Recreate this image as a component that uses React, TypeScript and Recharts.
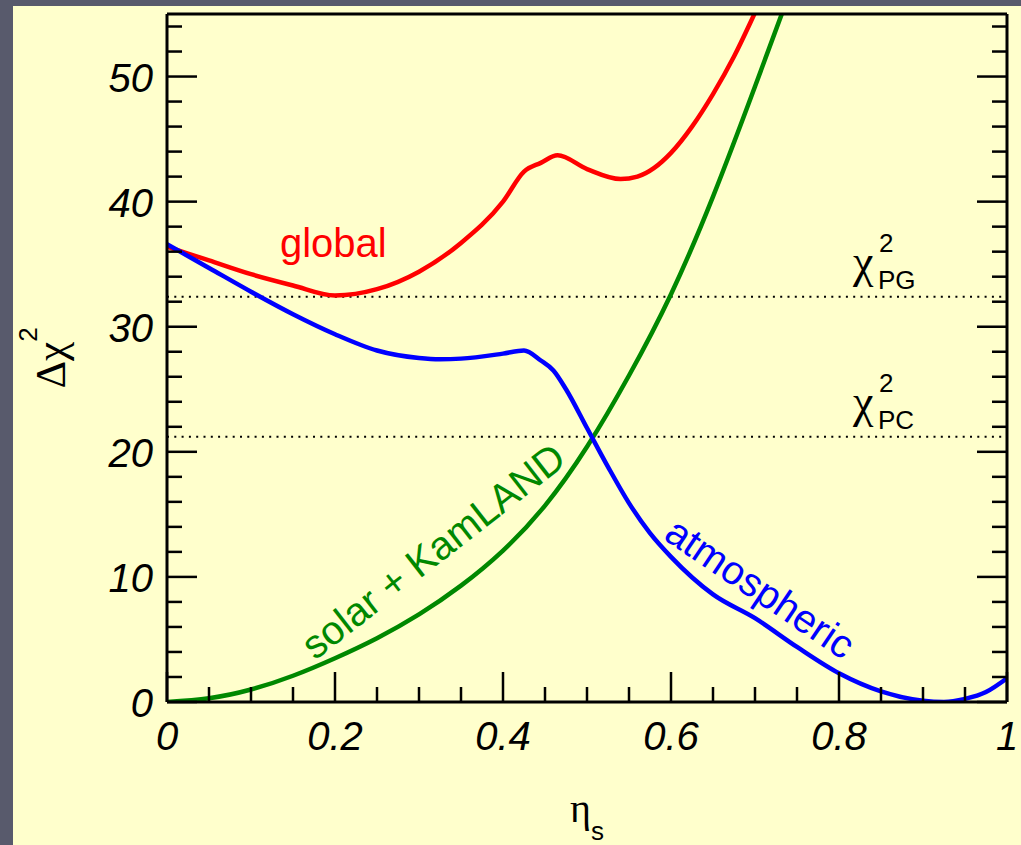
import React from 'react';
import { LineChart, Line, XAxis, YAxis, ReferenceLine, ReferenceDot } from 'recharts';

// solar + KamLAND
const etaSolar = [0, 0.05, 0.1, 0.15, 0.2, 0.25, 0.3, 0.35, 0.4, 0.45, 0.5, 0.55, 0.6, 0.65, 0.7, 0.75];
const chiSolar = [0, 0.3, 1.0, 2.1, 3.5, 5.1, 7.0, 9.3, 12.1, 15.7, 20.4, 26.1, 32.6, 40.4, 49.2, 58.3];

// global fit
const etaGlobal = [0, 0.05, 0.1, 0.15, 0.2, 0.25, 0.3, 0.35, 0.4, 0.425, 0.445, 0.465, 0.5, 0.54, 0.56, 0.58, 0.6, 0.625, 0.65, 0.675, 0.7, 0.75];
const chiGlobal = [36.4, 35.3, 34.2, 33.3, 32.5, 33.0, 34.4, 36.7, 40.0, 42.4, 43.1, 43.7, 42.6, 41.8, 42.0, 42.7, 43.9, 46.0, 48.6, 51.6, 55.1, 62.5];

// atmospheric
const etaAtm = [0, 0.05, 0.1, 0.15, 0.2, 0.25, 0.3, 0.325, 0.35, 0.4, 0.425, 0.445, 0.46, 0.475, 0.5, 0.525, 0.55, 0.575, 0.6, 0.65, 0.7, 0.75, 0.8, 0.85, 0.9, 0.925, 0.95, 0.975, 1];
const chiAtm = [36.6, 34.7, 32.8, 31.0, 29.4, 28.1, 27.5, 27.4, 27.45, 27.85, 28.1, 27.3, 26.5, 25.0, 21.9, 18.8, 15.9, 13.5, 11.6, 8.6, 6.7, 4.4, 2.3, 0.85, 0.1, 0.0, 0.25, 0.8, 1.9];

// parameter goodness-of-fit thresholds
const chiPG = 32.4;
const chiPC = 21.2;

const xTicks = [0, 0.05, 0.1, 0.15, 0.2, 0.25, 0.3, 0.35, 0.4, 0.45, 0.5, 0.55, 0.6, 0.65, 0.7, 0.75, 0.8, 0.85, 0.9, 0.95, 1];
const xMajor = [0, 0.2, 0.4, 0.6, 0.8, 1];
const yTicks = [0, 2, 4, 6, 8, 10, 12, 14, 16, 18, 20, 22, 24, 26, 28, 30, 32, 34, 36, 38, 40, 42, 44, 46, 48, 50, 52, 54];
const yMajor = [0, 10, 20, 30, 40, 50];

const toPoints = (etas: number[], chis: number[]) => etas.map((eta, i) => ({ eta, chi: chis[i] }));

const SANS = '"Liberation Sans", Arial, sans-serif';
const SERIF = '"Liberation Serif", "Times New Roman", serif';
const MAJOR = 30;
const MINOR = 15;
const TICK_W = 2.5;
const LINE_W = 4.5;

const tickFont = { fontFamily: SANS, fontStyle: 'italic', fontSize: 40 } as const;

const BottomTick = (props: any) => {
  const { x, y, payload } = props;
  const major = xMajor.includes(payload.value);
  return (
    <g>
      <line x1={x} y1={y} x2={x} y2={y - (major ? MAJOR : MINOR)} stroke="#000" strokeWidth={TICK_W} />
      {major && (
        <text x={x} y={y + 48} textAnchor="middle" fill="#000" {...tickFont}>
          {String(payload.value)}
        </text>
      )}
    </g>
  );
};

const TopTick = (props: any) => {
  const { x, y, payload } = props;
  const major = xMajor.includes(payload.value);
  return <line x1={x} y1={y} x2={x} y2={y + (major ? MAJOR : MINOR)} stroke="#000" strokeWidth={TICK_W} />;
};

const LeftTick = (props: any) => {
  const { x, y, payload } = props;
  const major = yMajor.includes(payload.value);
  return (
    <g>
      <line x1={x} y1={y} x2={x + (major ? MAJOR : MINOR)} y2={y} stroke="#000" strokeWidth={TICK_W} />
      {major && (
        <text x={x - 14} y={y + 15} textAnchor="end" fill="#000" {...tickFont}>
          {String(payload.value)}
        </text>
      )}
    </g>
  );
};

const RightTick = (props: any) => {
  const { x, y, payload } = props;
  const major = yMajor.includes(payload.value);
  return <line x1={x} y1={y} x2={x - (major ? MAJOR : MINOR)} y2={y} stroke="#000" strokeWidth={TICK_W} />;
};

const xTitle = (props: any) => {
  const { viewBox } = props;
  const cx = viewBox.x + viewBox.width / 2;
  return (
    <text x={cx} y={822} textAnchor="middle" fill="#000">
      <tspan fontFamily={SERIF} fontSize={40}>η</tspan>
      <tspan dy={18} fontFamily={SANS} fontSize={26}>s</tspan>
    </text>
  );
};

const yTitle = (props: any) => {
  const { viewBox } = props;
  const cx = viewBox.x - 42;
  const cy = viewBox.y + viewBox.height / 2;
  return (
    <text transform={`translate(${cx},${cy}) rotate(-90)`} textAnchor="middle" fill="#000">
      <tspan fontFamily={SERIF} fontSize={43}>Δχ</tspan>
      <tspan dy={-28} fontFamily={SANS} fontSize={26}>2</tspan>
    </text>
  );
};

const curveLabel = (text: string, color: string, angle: number, anchor: 'start' | 'middle') => (props: any) => {
  const { x, y } = props.viewBox;
  return (
    <text
      x={x}
      y={y}
      transform={`rotate(${angle} ${x} ${y})`}
      textAnchor={anchor}
      fill={color}
      fontFamily={SANS}
      fontSize={40}
    >
      {text}
    </text>
  );
};

const chiLabel = (sub: string) => (props: any) => {
  const { x, y } = props.viewBox;
  return (
    <g fill="#000">
      <text x={x - 2} y={y - 20} fontFamily={SERIF} fontSize={46}>χ</text>
      <text x={x + 24} y={y - 45} fontFamily={SANS} fontSize={26}>2</text>
      <text x={x + 23} y={y - 8} fontFamily={SANS} fontSize={26}>{sub}</text>
    </g>
  );
};

const axisLine = { stroke: '#000', strokeWidth: 3 };

export default function App() {
  return (
    <div style={{ position: 'relative', width: 1021, height: 845, background: '#585a6c', overflow: 'hidden' }}>
      <style>{'body{margin:0}'}</style>
      <div style={{ position: 'absolute', left: 13, top: 6, right: 0, bottom: 0, background: '#ffffcc' }} />
      <div style={{ position: 'absolute', left: 0, top: 0 }}>
        <LineChart width={1021} height={845} margin={{ top: 4, right: 4, bottom: 113, left: 107 }}>
          <XAxis
            xAxisId="bottom"
            dataKey="eta"
            type="number"
            domain={[0, 1]}
            ticks={xTicks}
            interval={0}
            height={30}
            tickSize={0}
            tickMargin={0}
            axisLine={axisLine}
            tickLine={false}
            tick={<BottomTick />}
            label={xTitle}
            allowDataOverflow
          />
          <XAxis
            xAxisId="top"
            orientation="top"
            type="number"
            domain={[0, 1]}
            ticks={xTicks}
            interval={0}
            height={10}
            tickSize={0}
            tickMargin={0}
            axisLine={axisLine}
            tickLine={false}
            tick={<TopTick />}
            allowDataOverflow
          />
          <YAxis
            yAxisId="left"
            type="number"
            domain={[0, 55]}
            ticks={yTicks}
            interval={0}
            width={60}
            tickSize={0}
            tickMargin={0}
            axisLine={axisLine}
            tickLine={false}
            tick={<LeftTick />}
            label={yTitle}
            allowDataOverflow
          />
          <YAxis
            yAxisId="right"
            orientation="right"
            type="number"
            domain={[0, 55]}
            ticks={yTicks}
            interval={0}
            width={10}
            tickSize={0}
            tickMargin={0}
            axisLine={axisLine}
            tickLine={false}
            tick={<RightTick />}
            allowDataOverflow
          />

          <ReferenceLine xAxisId="bottom" yAxisId="left" y={chiPG} stroke="#000" strokeWidth={2} strokeDasharray="2 5.3" />
          <ReferenceLine xAxisId="bottom" yAxisId="left" y={chiPC} stroke="#000" strokeWidth={2} strokeDasharray="2 5.3" />

          <Line
            xAxisId="bottom"
            yAxisId="left"
            data={toPoints(etaSolar, chiSolar)}
            dataKey="chi"
            type="natural"
            stroke="#008800"
            strokeWidth={LINE_W}
            dot={false}
            isAnimationActive={false}
          />
          <Line
            xAxisId="bottom"
            yAxisId="left"
            data={toPoints(etaGlobal, chiGlobal)}
            dataKey="chi"
            type="monotone"
            stroke="#ff0000"
            strokeWidth={LINE_W}
            dot={false}
            isAnimationActive={false}
          />
          <Line
            xAxisId="bottom"
            yAxisId="left"
            data={toPoints(etaAtm, chiAtm)}
            dataKey="chi"
            type="monotone"
            stroke="#0000ff"
            strokeWidth={LINE_W}
            dot={false}
            isAnimationActive={false}
          />

          <ReferenceDot xAxisId="bottom" yAxisId="left" x={0.1345} y={35.57} r={0} fill="none" stroke="none"
            label={curveLabel('global', '#ff0000', 0, 'start')} />
          <ReferenceDot xAxisId="bottom" yAxisId="left" x={0.327} y={11.2} r={0} fill="none" stroke="none"
            label={curveLabel('solar + KamLAND', '#008800', -38, 'middle')} />
          <ReferenceDot xAxisId="bottom" yAxisId="left" x={0.697} y={8.2} r={0} fill="none" stroke="none"
            label={curveLabel('atmospheric', '#0000ff', 34, 'middle')} />
          <ReferenceDot xAxisId="bottom" yAxisId="left" x={0.819} y={chiPG} r={0} fill="none" stroke="none"
            label={chiLabel('PG')} />
          <ReferenceDot xAxisId="bottom" yAxisId="left" x={0.819} y={chiPC} r={0} fill="none" stroke="none"
            label={chiLabel('PC')} />
        </LineChart>
      </div>
    </div>
  );
}
